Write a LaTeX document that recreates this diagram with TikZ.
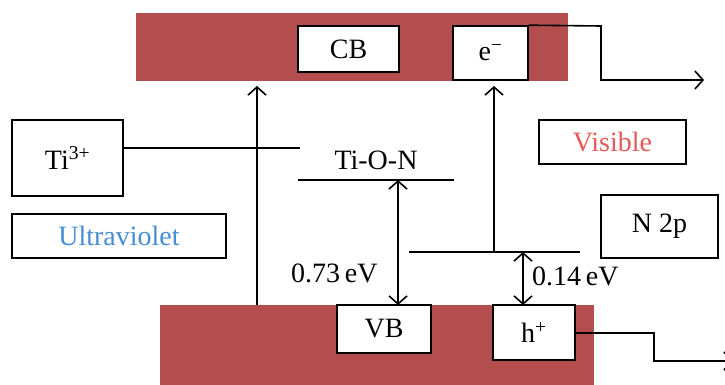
\documentclass[tikz,border=0pt]{standalone}
\usepackage{fontspec}
\setmainfont{Liberation Serif}
\usetikzlibrary{arrows.meta}
\definecolor{band}{RGB}{180,77,77}
\definecolor{uvblue}{RGB}{70,140,215}
\definecolor{visred}{RGB}{232,88,88}
\tikzset{
  bandbox/.style={fill=band, draw=none, inner sep=0pt},
  lbox/.style={draw=black, fill=white, line width=1.6pt, inner sep=0pt, font=\fontsize{28}{31}\selectfont},
  plain/.style={inner sep=0pt, font=\fontsize{28}{31}\selectfont},
  conn/.style={line width=1.6pt},
  tip/.style={-{Straight Barb[length=8pt,width=18pt,line width=1.6pt]}},
  dtip/.style={{Straight Barb[length=8pt,width=18pt,line width=1.6pt]}-{Straight Barb[length=8pt,width=18pt,line width=1.6pt]}}
}
\begin{document}
\begin{tikzpicture}[x=1pt,y=-1pt]
\useasboundingbox (0,0) rectangle (725,385);
\clip (0,0) rectangle (725,385);
% bands
\node[bandbox, minimum width=432pt, minimum height=68pt] (cband) at (352,47) {};
\node[bandbox, minimum width=434pt, minimum height=85pt] (vband) at (377,347.5) {};
% boxes
\node[lbox, minimum width=101pt, minimum height=46pt] (cb) at (348.5,49) {CB};
\node[lbox, minimum width=75pt, minimum height=54pt] (em) at (490.5,53) {e\textsuperscript{−}};
\node[lbox, minimum width=111pt, minimum height=76pt] (ti) at (67.5,158) {Ti\textsuperscript{3+}};
\node[lbox, minimum width=147pt, minimum height=44pt, text=visred] (vis) at (612.5,142) {Visible};
\node[lbox, minimum width=214pt, minimum height=44pt, text=uvblue] (uv) at (119,236) {Ultraviolet};
\node[lbox, minimum width=117pt, minimum height=63pt] (n2p) at (659.5,226.5) {N 2p};
\node[lbox, minimum width=94pt, minimum height=48pt] (vb) at (384,329) {VB};
\node[lbox, minimum width=82pt, minimum height=55pt] (hp) at (534,332.5) {h\textsuperscript{+}};
% labels
\node[plain] (tion) at (376,160) {Ti-O-N};
\node[plain, anchor=west] (e73) at (291,273) {0.73\,eV};
\node[plain, anchor=west] (e14) at (532,276) {0.14\,eV};
% level lines
\coordinate (tiL) at (298,180);
\coordinate (tiR) at (454,180);
\coordinate (nL) at (409,252);
\coordinate (nR) at (580,252);
\draw[conn] (tiL) -- (tiR);
\draw[conn] (nL) -- (nR);
% Ti3+ line
\coordinate (tiend) at (300,148);
\draw[conn] (ti.east |- tiend) -- (tiend);
% UV excitation arrow
\coordinate (uvbot) at (257,305);
\coordinate (uvtop) at (257,86);
\draw[conn, tip] (uvbot) -- (uvtop);
% visible excitation arrow
\coordinate (vtop) at (494,86);
\draw[conn, tip] (494,252) -- (vtop);
% double arrows
\coordinate (d1t) at (398,180);
\coordinate (d1b) at (398,305);
\draw[conn, dtip] (d1t) -- (d1b);
\coordinate (d2t) at (523,252);
\coordinate (d2b) at (523,305);
\draw[conn, dtip] (d2t) -- (d2b);
% electron out path
\coordinate (ea) at (601,26);
\coordinate (eb) at (601,80);
\coordinate (ec) at (704,80);
\draw[conn, tip] (em.north east) -- (ea) -- (eb) -- (ec);
% hole out path
\coordinate (ha) at (654,333);
\coordinate (hb) at (654,361);
\coordinate (hc) at (733,361);
\draw[conn, tip] (hp.east |- ha) -- (ha) -- (hb) -- (hc);
\end{tikzpicture}
\end{document}
